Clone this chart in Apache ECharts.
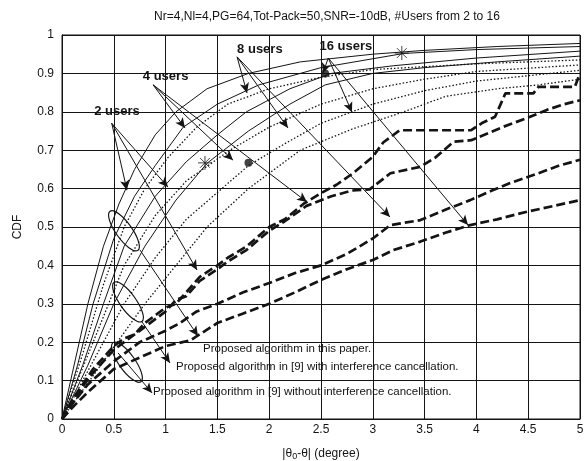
<!DOCTYPE html>
<html>
<head>
<meta charset="utf-8">
<script src="https://cdn.jsdelivr.net/npm/echarts@6/dist/echarts.min.js"></script>
<style>
  html, body { margin: 0; padding: 0; background: #fff; }
  #chart { width: 584px; height: 461px; }
</style>
</head>
<body>
<div id="chart"></div>
<script>
// tick values
const xTicks = [0, 0.5, 1, 1.5, 2, 2.5, 3, 3.5, 4, 4.5, 5]
const yTicks = [0, 0.1, 0.2, 0.3, 0.4, 0.5, 0.6, 0.7, 0.8, 0.9, 1]

// proposed algorithm in this paper (thin solid)
const prop2 = [[0,0],[0.1,0.12],[0.25,0.3],[0.4,0.45],[0.55,0.56],[0.7,0.65],[0.9,0.74],[1.1,0.8],[1.4,0.86],[1.8,0.9],[2.3,0.93],[3,0.95],[3.5,0.96],[4.2,0.97],[5,0.978]]
const prop4 = [[0,0],[0.15,0.14],[0.3,0.3],[0.5,0.47],[0.7,0.58],[0.9,0.66],[1.17,0.76],[1.5,0.82],[1.9,0.87],[2.5,0.915],[3.3,0.952],[4,0.962],[5,0.97]]
const prop8 = [[0,0],[0.2,0.14],[0.4,0.3],[0.6,0.45],[0.9,0.58],[1.2,0.67],[1.5,0.74],[1.78,0.8],[2.2,0.86],[2.6,0.9],[3.2,0.92],[4,0.94],[5,0.958]]
const prop16 = [[0,0],[0.25,0.14],[0.5,0.3],[0.8,0.45],[1.1,0.57],[1.4,0.666],[1.8,0.75],[2.2,0.82],[2.54,0.87],[3,0.9],[3.5,0.915],[4.2,0.93],[5,0.945]]

// proposed algorithm in [9] with interference cancellation (dotted)
const withIC2 = [[0,0],[0.2,0.17],[0.4,0.35],[0.6,0.5],[0.8,0.6],[1.02,0.68],[1.3,0.76],[1.6,0.82],[2,0.86],[2.5,0.89],[3,0.91],[4,0.925],[5,0.935]]
const withIC4 = [[0,0],[0.3,0.2],[0.6,0.4],[0.9,0.53],[1.2,0.62],[1.62,0.7],[2,0.76],[2.5,0.82],[3,0.86],[3.5,0.885],[4,0.905],[5,0.922]]
const withIC8 = [[0,0],[0.3,0.15],[0.6,0.3],[0.9,0.42],[1.2,0.52],[1.5,0.59],[1.8,0.66],[2.17,0.72],[2.5,0.77],[3,0.82],[3.5,0.855],[4,0.88],[5,0.908]]
const withIC16 = [[0,0],[0.4,0.15],[0.8,0.3],[1.1,0.4],[1.4,0.5],[1.8,0.6],[2.3,0.7],[2.8,0.755],[3.3,0.8],[3.7,0.84],[4.2,0.86],[4.6,0.87],[5,0.885]]

// proposed algorithm in [9] without interference cancellation (thick dashed)
const noIC2 = [[0,0],[0.1,0.05],[0.2,0.09],[0.3,0.13],[0.4,0.16],[0.5,0.19],[0.6,0.21],[0.7,0.22],[0.8,0.25],[0.9,0.27],[1,0.29],[1.1,0.3],[1.2,0.33],[1.33,0.37],[1.5,0.4],[1.6,0.42],[1.78,0.449],[2,0.5],[2.15,0.52],[2.33,0.56],[2.5,0.588],[2.65,0.61],[2.81,0.64],[3,0.683],[3.1,0.72],[3.26,0.752],[3.95,0.752],[4.05,0.77],[4.18,0.787],[4.28,0.848],[4.55,0.848],[4.6,0.865],[4.95,0.865],[5,0.9]]
const noIC4 = [[0,0],[0.1,0.045],[0.2,0.085],[0.3,0.12],[0.4,0.15],[0.5,0.18],[0.6,0.2],[0.7,0.22],[0.8,0.24],[0.9,0.26],[1,0.28],[1.1,0.31],[1.2,0.32],[1.33,0.36],[1.5,0.39],[1.6,0.41],[1.78,0.44],[2,0.49],[2.15,0.515],[2.36,0.555],[2.6,0.58],[2.8,0.595],[2.97,0.598],[3.17,0.64],[3.46,0.657],[3.6,0.68],[3.78,0.722],[3.95,0.726],[4.26,0.761],[4.5,0.785],[4.68,0.805],[4.85,0.82],[5,0.83]]
const noIC8 = [[0,0],[0.1,0.04],[0.25,0.09],[0.5,0.15],[0.75,0.2],[1,0.23],[1.14,0.25],[1.3,0.28],[1.5,0.3],[1.75,0.33],[2,0.354],[2.25,0.38],[2.5,0.4],[2.75,0.43],[3,0.47],[3.17,0.505],[3.46,0.518],[3.7,0.545],[3.94,0.57],[4.15,0.595],[4.32,0.614],[4.6,0.64],[4.8,0.66],[5,0.675]]
const noIC16 = [[0,0],[0.1,0.03],[0.25,0.07],[0.5,0.13],[0.75,0.16],[1,0.19],[1.24,0.205],[1.5,0.25],[1.75,0.275],[2,0.3],[2.25,0.33],[2.5,0.362],[2.75,0.39],[3,0.414],[3.2,0.44],[3.46,0.462],[3.7,0.485],[3.94,0.505],[4.2,0.52],[4.49,0.54],[4.75,0.555],[5,0.57]]

// markers drawn on the curves
const starPoints = [[1.38,0.667],[3.28,0.953]]
const dotPoints = [[1.8,0.667],[2.54,0.9]]

// annotation labels and arrows (data coordinates)
const userLabels = [
  { text: '2 users', at: [0.53, 0.8], from: [0.48, 0.77], to: [[0.627,0.596],[1.023,0.604],[1.303,0.388]] },
  { text: '4 users', at: [1.0, 0.892], from: [0.88, 0.87], to: [[1.187,0.758],[1.651,0.674],[2.365,0.565]] },
  { text: '8 users', at: [1.91, 0.962], from: [1.69, 0.943], to: [[1.786,0.849],[2.181,0.758],[3.166,0.526]] },
  { text: '16 users', at: [2.74, 0.97], from: [2.57, 0.94], to: [[2.519,0.901],[2.799,0.799],[3.919,0.505]] }
]
const legendNotes = [
  { text: 'Proposed algorithm in this paper.', ellipse: [0.598,0.49], from: [0.753,0.44], to: [1.313,0.216], at: [1.361,0.182] },
  { text: 'Proposed algorithm in [9] with interference cancellation.', ellipse: [0.637,0.305], from: [0.772,0.253], to: [1.042,0.146], at: [1.1,0.135] },
  { text: 'Proposed algorithm in [9] without interference cancellation.', ellipse: [0.627,0.148], from: [0.541,0.172], to: [0.869,0.068], at: [0.878,0.07] }
]

const FONT = 'Liberation Sans, Arial, sans-serif'
const INK = '#141414'

let chart = echarts.init(document.getElementById('chart'))

function curve(data, kind) {
  let style = { color: INK, width: 1, type: 'solid' }
  if (kind === 'dot') {
    style = { color: INK, width: 1.3, type: [1.5, 2] }
  } else if (kind === 'dash') {
    style = { color: INK, width: 2.7, type: [9, 4] }
  }
  return {
    type: 'line',
    data: data,
    showSymbol: false,
    animation: false,
    silent: true,
    lineStyle: style
  }
}

let arrowLines = []
for (let u of userLabels) {
  for (let t of u.to) {
    arrowLines.push([{ coord: u.from, symbol: 'none' }, { coord: t, symbol: 'arrow' }])
  }
}
for (let n of legendNotes) {
  arrowLines.push([{ coord: n.from, symbol: 'none' }, { coord: n.to, symbol: 'arrow' }])
}

let series = [
  curve(prop2), curve(prop4), curve(prop8), curve(prop16),
  curve(withIC2, 'dot'), curve(withIC4, 'dot'), curve(withIC8, 'dot'), curve(withIC16, 'dot'),
  curve(noIC2, 'dash'), curve(noIC4, 'dash'), curve(noIC8, 'dash'), curve(noIC16, 'dash'),
  {
    type: 'scatter',
    data: starPoints,
    symbol: 'path://M0,-10L0,10M-10,0L10,0M-7,-7L7,7M-7,7L7,-7',
    symbolSize: 14,
    itemStyle: { color: 'none', borderColor: INK, borderWidth: 1 },
    silent: true,
    animation: false
  },
  {
    type: 'scatter',
    data: dotPoints,
    symbol: 'circle',
    symbolSize: 8,
    itemStyle: { color: INK },
    silent: true,
    animation: false,
    markLine: {
      silent: true,
      animation: false,
      symbolSize: [7, 10],
      lineStyle: { color: INK, width: 1, type: 'solid' },
      label: { show: false },
      data: arrowLines
    }
  }
]

chart.setOption({
  backgroundColor: '#fff',
  animation: false,
  title: {
    text: 'Nr=4,Nl=4,PG=64,Tot-Pack=50,SNR=-10dB, #Users from 2 to 16',
    left: 322,
    top: 6,
    textAlign: 'center',
    textStyle: { fontFamily: FONT, fontSize: 12, fontWeight: 'normal', color: INK }
  },
  grid: { left: 62, right: 4, top: 35, bottom: 42, outerBoundsMode: 'none', show: true, borderColor: INK, borderWidth: 1 },
  xAxis: {
    type: 'value',
    min: 0,
    max: 5,
    interval: 0.5,
    name: '{a|\u007C\u03B8}{s|0}{a|-\u03B8\u007C (degree)}',
    nameLocation: 'middle',
    nameGap: 27,
    nameTextStyle: {
      rich: {
        a: { fontFamily: FONT, fontSize: 12, color: INK },
        s: { fontFamily: FONT, fontSize: 9, color: INK, verticalAlign: 'bottom', padding: [6, 0, 0, 0] }
      }
    },
    axisLine: { show: true, lineStyle: { color: INK } },
    axisTick: { show: true, inside: true, length: 4, lineStyle: { color: INK } },
    axisLabel: { fontFamily: FONT, fontSize: 12, color: INK, margin: 5, formatter: v => xTicks.includes(v) ? String(v) : '' },
    splitLine: { show: true, lineStyle: { color: INK, width: 1 } }
  },
  yAxis: {
    type: 'value',
    min: 0,
    max: 1,
    interval: 0.1,
    name: 'CDF',
    nameLocation: 'middle',
    nameGap: 38,
    nameTextStyle: { fontFamily: FONT, fontSize: 12, color: INK },
    axisLine: { show: true, lineStyle: { color: INK } },
    axisTick: { show: true, inside: true, length: 4, lineStyle: { color: INK } },
    axisLabel: { fontFamily: FONT, fontSize: 12, color: INK, margin: 8, formatter: v => yTicks.some(t => Math.abs(t - v) < 1e-6) ? String(+v.toFixed(1)) : '' },
    splitLine: { show: true, lineStyle: { color: INK, width: 1 } }
  },
  series: series
})

// annotation text and ellipses placed from data coordinates
let graphics = []
for (let u of userLabels) {
  let p = chart.convertToPixel({ gridIndex: 0 }, u.at)
  graphics.push({
    type: 'text', x: p[0], y: p[1], silent: true,
    style: { text: u.text, fontFamily: FONT, fontSize: 13, fontWeight: 'bold', fill: INK, align: 'center', verticalAlign: 'middle' }
  })
}
for (let n of legendNotes) {
  let c = chart.convertToPixel({ gridIndex: 0 }, n.ellipse)
  graphics.push({
    type: 'ellipse', x: c[0], y: c[1], rotation: 0.62, silent: true,
    shape: { cx: 0, cy: 0, rx: 8, ry: 24 },
    style: { fill: 'none', stroke: INK, lineWidth: 1.2 }
  })
  let p = chart.convertToPixel({ gridIndex: 0 }, n.at)
  graphics.push({
    type: 'text', x: p[0], y: p[1], silent: true,
    style: { text: n.text, fontFamily: FONT, fontSize: 11.5, fill: INK, align: 'left', verticalAlign: 'middle' }
  })
}
chart.setOption({ graphic: graphics })
</script>
</body>
</html>
